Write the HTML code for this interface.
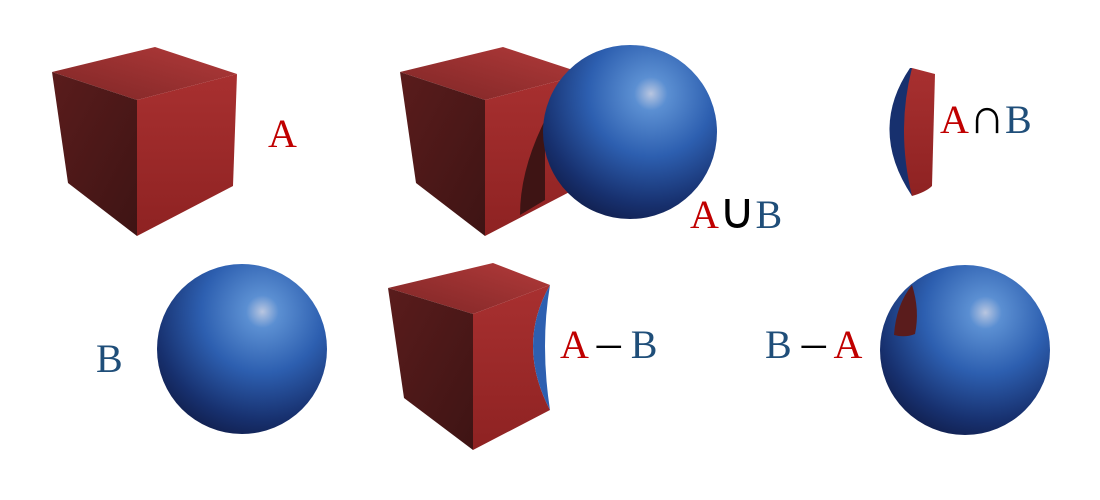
<!DOCTYPE html>
<html><head><meta charset="utf-8"><style>
html,body{margin:0;padding:0;background:#fff;width:1100px;height:500px;overflow:hidden}
text{font-family:"Liberation Serif",serif;font-size:40px}
</style></head><body>
<svg width="1100" height="500" viewBox="0 0 1100 500">
<defs>
<radialGradient id="sph" cx="0.62" cy="0.28" r="0.8">
<stop offset="0" stop-color="#b9c6e0"/><stop offset="0.12" stop-color="#5b8fd2"/>
<stop offset="0.45" stop-color="#2d5fb0"/><stop offset="0.8" stop-color="#17306e"/><stop offset="1" stop-color="#101c48"/>
</radialGradient>
<linearGradient id="top" x1="0" y1="1" x2="1" y2="0"><stop offset="0" stop-color="#7e2626"/><stop offset="1" stop-color="#b23a3a"/></linearGradient>
<linearGradient id="right" x1="0" y1="0" x2="0" y2="1"><stop offset="0" stop-color="#a83030"/><stop offset="1" stop-color="#8e2222"/></linearGradient>
<linearGradient id="left" x1="0" y1="0" x2="1" y2="1"><stop offset="0" stop-color="#5a1c1c"/><stop offset="1" stop-color="#3e1414"/></linearGradient>
<g id="cube">
<polygon points="52,72 155,47 237,74 137,100" fill="url(#top)"/>
<polygon points="52,72 137,100 137,236 68,183" fill="url(#left)"/>
<polygon points="137,100 237,74 233,186 137,236" fill="url(#right)"/>
</g>
</defs>

<g><use href="#cube"/></g>
<text x="268" y="147" fill="#c00000">A</text>

<g><circle cx="242" cy="349" r="85" fill="url(#sph)"/></g>
<text x="96" y="372" fill="#1f4e79">B</text>

<g>
<use href="#cube" x="348" y="0"/>
<path d="M545,120 Q520,170 520,215 L545,200 Z" fill="#3e1414"/>
<circle cx="630" cy="132" r="87" fill="url(#sph)"/>
</g>
<text x="690" y="228" fill="#c00000">A<tspan fill="#000" font-size="50">∪</tspan><tspan fill="#1f4e79">B</tspan></text>

<g>
<path d="M910,68 Q868,130 912,196 L912,68 Z" fill="#17306e"/>
<path d="M912,68 Q896,130 912,196 Q926,192 932,186 L935,74 Z" fill="url(#right)"/>
</g>
<text x="940" y="133" fill="#c00000">A<tspan fill="#000" font-size="50">∩</tspan><tspan fill="#1f4e79">B</tspan></text>

<g>
<polygon points="388,288 493,263 550,285 473,314" fill="url(#top)"/>
<polygon points="388,288 473,314 473,450 404,398" fill="url(#left)"/>
<path d="M473,314 L550,285 Q516,345 550,410 L473,450 Z" fill="url(#right)"/>
<path d="M550,285 Q516,345 550,410 Q540,345 550,285 Z" fill="#2d5fb0"/>
</g>
<text x="560" y="358" fill="#c00000">A <tspan fill="#000" font-size="48">–</tspan> <tspan fill="#1f4e79">B</tspan></text>

<g>
<circle cx="965" cy="350" r="85" fill="url(#sph)"/>
<path d="M912,285 Q896,305 894,335 Q905,338 915,334 Q920,310 912,285 Z" fill="#5a1c1c"/>
</g>
<text x="765" y="358" fill="#1f4e79">B <tspan fill="#000" font-size="48">–</tspan> <tspan fill="#c00000">A</tspan></text>
</svg>
</body></html>
